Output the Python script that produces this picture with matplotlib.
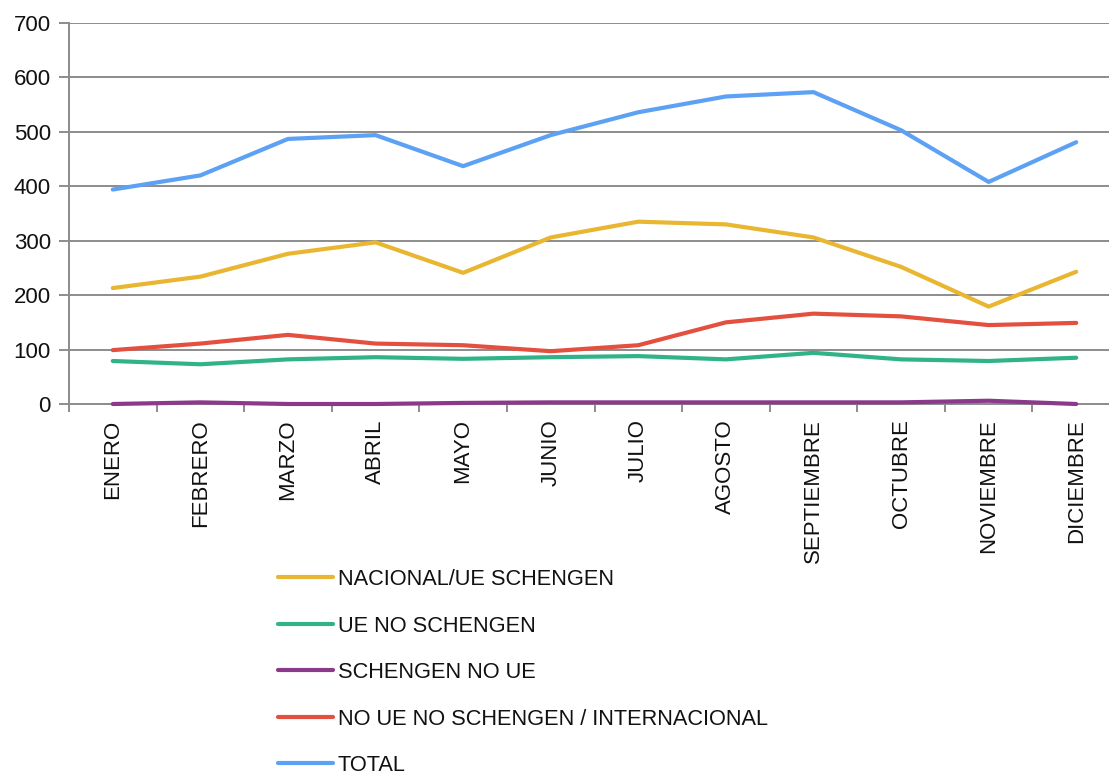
import matplotlib
matplotlib.use("Agg")
import matplotlib.pyplot as plt
from matplotlib.ticker import FixedLocator, MultipleLocator

# ---- data ----
meses = ["ENERO", "FEBRERO", "MARZO", "ABRIL", "MAYO", "JUNIO", "JULIO",
         "AGOSTO", "SEPTIEMBRE", "OCTUBRE", "NOVIEMBRE", "DICIEMBRE"]
nacional_ue_schengen = [213, 234, 276, 297, 241, 306, 335, 330, 306, 252, 179, 243]
ue_no_schengen = [79, 73, 82, 86, 83, 86, 88, 82, 94, 82, 79, 85]
schengen_no_ue = [0, 3, 0, 0, 2, 3, 3, 3, 3, 3, 6, 0]
internacional = [99, 111, 127, 111, 108, 97, 108, 150, 166, 161, 145, 149]
total = [394, 420, 487, 494, 437, 494, 536, 565, 573, 503, 408, 481]

series = [
    ("NACIONAL/UE SCHENGEN", nacional_ue_schengen, "#E9B631"),
    ("UE NO SCHENGEN", ue_no_schengen, "#31B38A"),
    ("SCHENGEN NO UE", schengen_no_ue, "#8B3A8B"),
    ("NO UE NO SCHENGEN / INTERNACIONAL", internacional, "#E4503F"),
    ("TOTAL", total, "#5DA1F4"),
]

GRID = "#8c8c8c"
FS = 16
plt.rcParams.update({
    "font.family": ["Liberation Sans", "DejaVu Sans"],
    "font.size": FS,
    "text.color": "#111111",
})

W, H = 1109, 776
fig = plt.figure(figsize=(W / 100, H / 100), dpi=100)
ax = fig.add_axes([69 / W, 1 - 404 / H, 1051 / W, 381 / H])

x = list(range(len(meses)))
for label, vals, color in series:
    ax.plot(x, vals, color=color, lw=3, label=label, solid_capstyle="round",
            clip_on=False, zorder=3)

ax.set_xlim(-0.5, len(meses) - 0.5)
ax.set_ylim(0, 700)
ax.yaxis.set_major_locator(MultipleLocator(100))
ax.grid(axis="y", color=GRID, lw=1.4)
ax.set_axisbelow(True)

ax.set_xticks(x)
ax.set_xticklabels(meses, rotation=90, ha="center", va="top")
ax.xaxis.set_minor_locator(FixedLocator([i - 0.5 for i in range(len(meses) + 1)]))
ax.tick_params(axis="x", which="major", length=0, pad=11, labelsize=FS, colors="#111111")
ax.tick_params(axis="x", which="minor", length=6, width=1.4, color=GRID)
ax.tick_params(axis="y", length=7, width=1.4, color=GRID, pad=6, labelsize=FS,
               labelcolor="#111111")

for s in ("top", "right"):
    ax.spines[s].set_visible(False)
for s in ("left", "bottom"):
    ax.spines[s].set_color(GRID)
    ax.spines[s].set_linewidth(1.4)

fig.legend(loc="upper left", bbox_to_anchor=(278 / W, 1 - 569 / H),
           frameon=False, fontsize=15.7, handlelength=2.5, handletextpad=0.25,
           labelspacing=1.17, borderpad=0, borderaxespad=0)

fig.savefig("out.png", dpi=100, facecolor="white")
